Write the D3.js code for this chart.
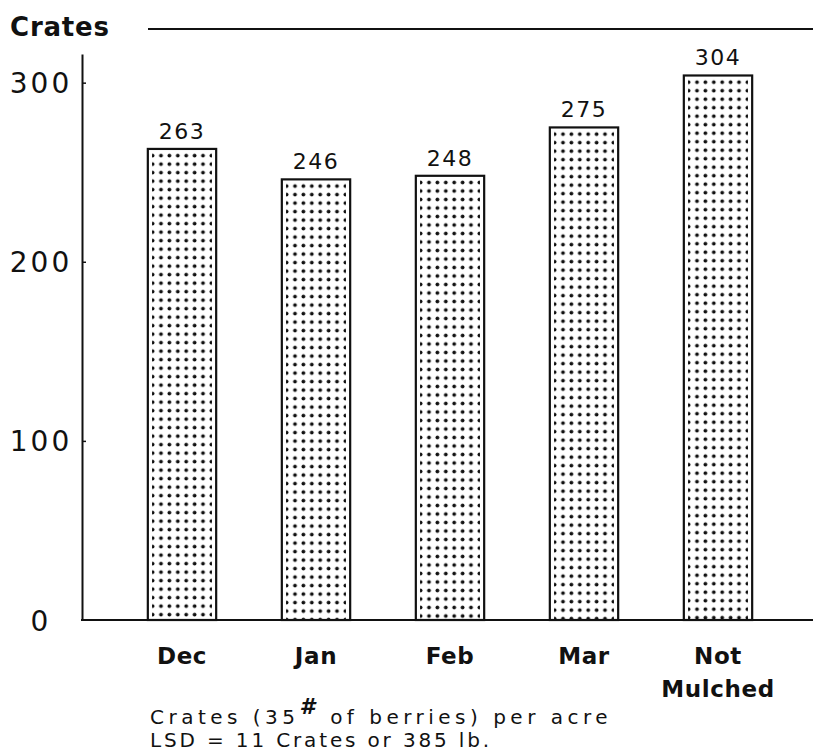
<!DOCTYPE html>
<html>
<head>
<meta charset="utf-8">
<script src="https://cdn.jsdelivr.net/npm/d3@7"></script>
<style>
  html, body { margin: 0; padding: 0; background: #fff; }
  svg { display: block; }
  text { font-family: "DejaVu Sans", sans-serif; fill: #111; }
</style>
</head>
<body>
<svg id="chart" width="813" height="753"></svg>
<script>
const categories = ["Dec", "Jan", "Feb", "Mar", "Not Mulched"];
const values = [263, 246, 248, 275, 304];
const yTicks = [0, 100, 200, 300];
const yTitle = "Crates";
const footnote1 = ["Crates (35", "#", " of berries) per acre"];
const footnote2 = "LSD = 11 Crates or 385 lb.";

const svg = d3.select("#chart");
const W = 813, H = 753;
const axisX = 82, baseY = 620, topY = 54;

const y = d3.scaleLinear().domain([0, 316]).range([baseY, topY]);
const x = d3.scaleBand().domain(categories).range([115, 785])
  .paddingInner(0.49).paddingOuter(0.245);

// title and top rule
svg.append("text").attr("x", 10).attr("y", 36)
  .style("font-weight", "bold").style("font-size", "26px").style("letter-spacing", "0.8px")
  .text(yTitle);
svg.append("line").attr("x1", 148).attr("x2", W).attr("y1", 29).attr("y2", 29)
  .attr("stroke", "#111").attr("stroke-width", 2);

// patterns
const defs = svg.append("defs");
const dx = 8.4, dy = 8.5;
categories.forEach((c, i) => {
  const bx = x(c), bw = x.bandwidth();
  const ncol = Math.floor((bw - 8) / dx) + 1;
  const margin = (bw - (ncol - 1) * dx) / 2;
  const p = defs.append("pattern").attr("id", "dots" + i)
    .attr("patternUnits", "userSpaceOnUse")
    .attr("x", bx + margin - dx / 2).attr("y", y(values[i]) + 6.7 - dy / 2)
    .attr("width", dx).attr("height", dy);
  p.append("circle").attr("cx", dx / 2).attr("cy", dy / 2).attr("r", 1.9).attr("fill", "#111");
});

// bars
const g = svg.append("g");
g.selectAll("rect.fill").data(values).join("rect").attr("class", "fill")
  .attr("x", (d, i) => x(categories[i]) + 4.2)
  .attr("width", x.bandwidth() - 8.4)
  .attr("y", d => y(d) + 2.2)
  .attr("height", d => baseY - y(d) - 2.2)
  .attr("fill", (d, i) => `url(#dots${i})`);
g.selectAll("rect.bar").data(values).join("rect").attr("class", "bar")
  .attr("x", (d, i) => x(categories[i]))
  .attr("width", x.bandwidth())
  .attr("y", d => y(d))
  .attr("height", d => baseY - y(d))
  .attr("fill", "none").attr("stroke", "#111").attr("stroke-width", 2.2);

// value labels
g.selectAll("text.val").data(values).join("text").attr("class", "val")
  .attr("x", (d, i) => x(categories[i]) + x.bandwidth() / 2)
  .attr("y", d => y(d) - 10)
  .attr("text-anchor", "middle")
  .style("font-size", "22px").style("letter-spacing", "1.5px")
  .text(d => d);

// y axis
const yAxis = d3.axisLeft(y).tickValues(yTicks).tickSizeInner(-4).tickSizeOuter(0).tickPadding(0);
const ga = svg.append("g").attr("transform", `translate(${axisX},0)`).call(yAxis);
ga.select(".domain").attr("stroke", "#111").attr("stroke-width", 2);
ga.selectAll(".tick line").attr("stroke", "#111").attr("stroke-width", 1.5)
  .filter(d => d === 0).remove();
ga.selectAll(".tick text")
  .attr("x", -41).attr("dy", "0.36em").attr("text-anchor", "middle")
  .style("font-family", "DejaVu Sans").style("font-size", "28px")
  .style("letter-spacing", "3px").attr("fill", "#111");

// baseline
svg.append("line").attr("x1", axisX - 1).attr("x2", W).attr("y1", baseY).attr("y2", baseY)
  .attr("stroke", "#111").attr("stroke-width", 2);

// category labels
const xl = svg.append("g");
categories.forEach(c => {
  const words = c.split(" ");
  const t = xl.append("text")
    .attr("x", x(c) + x.bandwidth() / 2).attr("y", 664)
    .attr("text-anchor", "middle")
    .style("font-weight", "bold").style("font-size", "23px").style("letter-spacing", "0.6px");
  words.forEach((w, k) => {
    t.append("tspan").attr("x", x(c) + x.bandwidth() / 2).attr("dy", k === 0 ? 0 : 33).text(w);
  });
});

// footnotes (letter spacing fitted to the reference line widths)
function fitSpacing(sel, target) {
  const n = sel.text().length;
  const w = sel.node().getComputedTextLength();
  sel.style("letter-spacing", ((target - w) / n) + "px");
}
const f1 = svg.append("text").attr("x", 150).attr("y", 724)
  .style("font-size", "20px");
f1.append("tspan").text(footnote1[0]);
f1.append("tspan").attr("dy", -10).style("font-weight", "bold").style("font-style", "italic")
  .style("font-size", "22px").text(footnote1[1]);
f1.append("tspan").attr("dy", 10).text(footnote1[2]);
fitSpacing(f1, 462);
const f2 = svg.append("text").attr("x", 150).attr("y", 747)
  .style("font-size", "20px")
  .text(footnote2);
fitSpacing(f2, 342);
</script>
</body>
</html>
